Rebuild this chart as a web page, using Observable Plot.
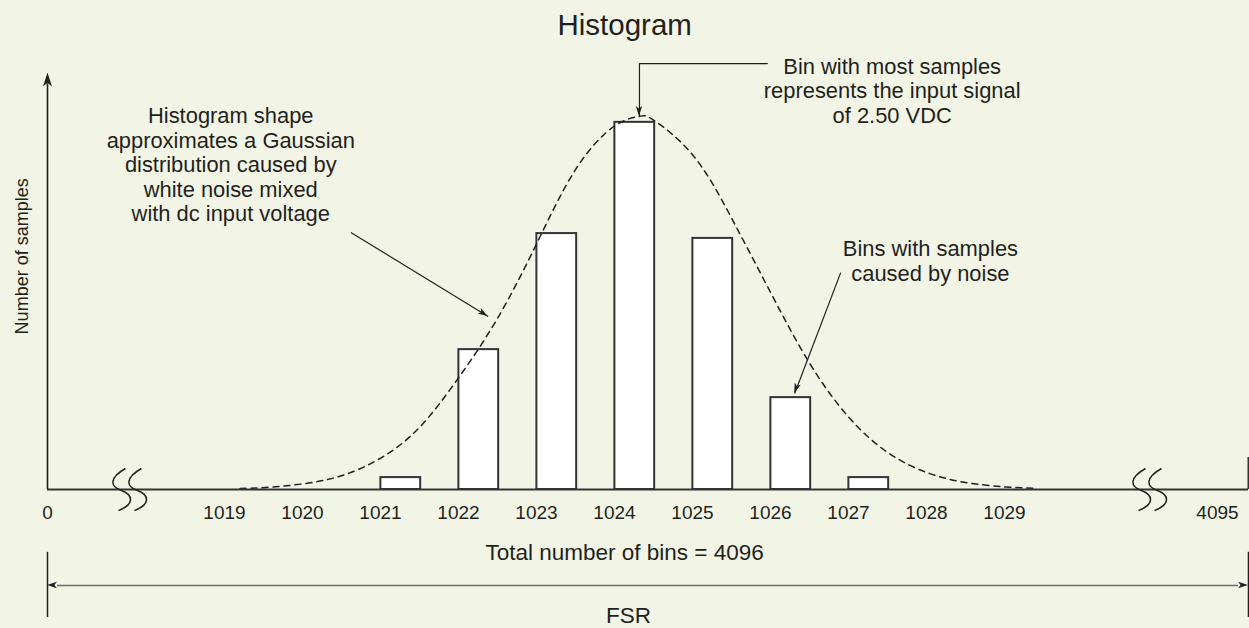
<!DOCTYPE html>
<html><head><meta charset="utf-8">
<script src="https://cdn.jsdelivr.net/npm/d3@7"></script>
<script src="https://cdn.jsdelivr.net/npm/@observablehq/plot@0.6"></script>
<style>
html,body{margin:0;padding:0;background:#f2f5e5;}
#chart{width:1249px;height:628px;overflow:hidden;}
</style></head><body><div id="chart"></div>
<script>
// ---- data ----
const bins = [1021, 1022, 1023, 1024, 1025, 1026, 1027];
const samples = [3.2, 37.6, 68.8, 98.7, 67.5, 24.7, 3.2];

// dashed Gaussian envelope
const gaussBin = [1019.2, 1019.5, 1020, 1020.5, 1021, 1021.5, 1022, 1022.5, 1023, 1023.5, 1024, 1024.32, 1024.5, 1025, 1025.5, 1026, 1026.5, 1027, 1027.5, 1028, 1028.5, 1029, 1029.4];
const gaussVal = [0.3, 0.5, 1.5, 3.7, 8.4, 16.7, 30, 46, 66, 86, 97.7, 100.3, 99.3, 90, 73, 53, 34, 19.5, 10, 4.6, 1.9, 0.7, 0.3];

const tickValues = [0, 1019, 1020, 1021, 1022, 1023, 1024, 1025, 1026, 1027, 1028, 1029, 4095];
const totalBins = 4096;
const breakAt = [843, 2551];

const titleText = "Histogram";
const yLabel = "Number of samples";
const totalText = "Total number of bins = 4096";
const fsrText = "FSR";

const noteText = [
  "Histogram shape\napproximates a Gaussian\ndistribution caused by\nwhite noise mixed\nwith dc input voltage",
  "Bin with most samples\nrepresents the input signal\nof 2.50 VDC",
  "Bins with samples\ncaused by noise"
];
const noteBin = [1019.08, 1027.56, 1028.05];
const noteVal = [87.4, 107.3, 61.45];

// straight callout arrows (from -> to)
const arrowFromBin = [1020.62, 1026.90];
const arrowFromVal = [69.1, 58.3];
const arrowToBin = [1022.38, 1026.31];
const arrowToVal = [46.5, 25.8];
// elbow callout to the peak
const elbowBin = [1025.96, 1024.32, 1024.32];
const elbowVal = [114.5, 114.5, 100.3];

// ---- scales ----
const xDomain = [0, 1018, 1030, 4095, totalBins];
const xRange = [47, 146, 1082, 1217, 1248];
const yDomain = [0, 100];
const yRange = [489, 117];
const xs = Plot.scale({x: {type: "linear", domain: xDomain, range: xRange}});
const ys = Plot.scale({y: {type: "linear", domain: yDomain, range: yRange}});
const angle = (u1, v1, u2, v2) => {
  const dx = xs.apply(u2) - xs.apply(u1), dy = ys.apply(v2) - ys.apply(v1);
  return Math.atan2(dx, -dy) * 180 / Math.PI;
};

const ink = "#231f20";
const font = "'Liberation Sans', Arial, sans-serif";
const barData = bins.map((b, i) => ({bin: b, samples: samples[i]}));
const gauss = gaussBin.map((b, i) => ({bin: b, v: gaussVal[i]}));
const notes = noteText.map((t, i) => ({t, bin: noteBin[i], v: noteVal[i]}));
const arrows = arrowFromBin.map((b, i) => ({x1: b, y1: arrowFromVal[i], x2: arrowToBin[i], y2: arrowToVal[i]}));
const elbow = elbowBin.map((b, i) => ({bin: b, v: elbowVal[i]}));

const yTop = 112.1, fsrTop = -16.9, fsrBot = -34.4, fsrMid = -25.8;

const smallHeads = [
  ...arrows.map(a => ({bin: a.x2, v: a.y2, a: angle(a.x1, a.y1, a.x2, a.y2), dx: 0})),
  {bin: elbowBin[2], v: elbowVal[2], a: 180, dx: 0},
  {bin: 0, v: fsrMid, a: -90, dx: 5},
  {bin: totalBins, v: fsrMid, a: 90, dx: -5}
];

// custom symbols
const headSym = {draw(ctx, size) {
  const r = Math.sqrt(size / Math.PI), L = 2 * r, W = 0.64 * r;
  ctx.moveTo(0, 0); ctx.lineTo(-W, L); ctx.lineTo(0, 0.74 * L); ctx.lineTo(W, L); ctx.closePath();
}};
const breakSym = {draw(ctx) {
  for (const c of [-8, 8]) {
    ctx.moveTo(c + 4, -21);
    ctx.bezierCurveTo(c - 12, -12, c - 12, -3, c, 1);
    ctx.bezierCurveTo(c + 12.5, 6, c + 12.5, 15, c - 3, 21);
  }
}};

const chart = Plot.plot({
  width: 1249, height: 628,
  marginLeft: 47, marginRight: 1, marginTop: 117, marginBottom: 139,
  x: {type: "linear", domain: xDomain, range: xRange, label: null},
  y: {type: "linear", domain: yDomain, range: yRange, axis: null, label: null},
  style: {fontFamily: font, background: "#f2f5e5", color: ink},
  marks: [
    // bars
    Plot.rect(barData, {x1: d => d.bin + 0.005, x2: d => d.bin + 0.515, y1: 0, y2: "samples", fill: "white", stroke: "#333", strokeWidth: 2}),
    // gaussian envelope
    Plot.line(gauss, {x: "bin", y: "v", curve: "natural", stroke: ink, strokeWidth: 1.5, strokeDasharray: "6,5"}),
    // baseline, y axis, end tick
    Plot.ruleY([0], {stroke: "#333", strokeWidth: 2}),
    Plot.ruleX([0], {y1: 0, y2: yTop - 3, stroke: ink, strokeWidth: 1.6}),
    Plot.dot([{bin: 0, v: yTop}], {x: "bin", y: "v", symbol: headSym, r: 7, fill: ink, stroke: "none"}),
    Plot.ruleX([totalBins], {y1: 0, y2: 8.6, stroke: "#333", strokeWidth: 2}),
    // axis breaks
    Plot.dot(breakAt, {x: d => d, y: 0, symbol: breakSym, r: 5, fill: "none", stroke: ink, strokeWidth: 1.5}),
    // tick labels
    Plot.axisX({ticks: tickValues, tickSize: 0, tickPadding: 15.5, fontSize: 19, tickFormat: d => String(d), color: ink, label: null}),
    // y label
    Plot.text([yLabel], {frameAnchor: "left", dx: -25, y: 41.7, rotate: -90, fontSize: 18, fill: ink}),
    // title
    Plot.text([titleText], {x: 1024.13, y: 124.7, fontSize: 29.5, fill: ink}),
    // notes
    Plot.text(notes, {x: "bin", y: "v", text: "t", fontSize: 21.9, lineHeight: 1.119, fill: ink}),
    Plot.link(arrows, {x1: "x1", y1: "y1", x2: "x2", y2: "y2", stroke: ink, strokeWidth: 1.2}),
    Plot.line(elbow, {x: "bin", y: "v", stroke: ink, strokeWidth: 1.2}),
    Plot.dot(smallHeads, {x: "bin", y: "v", rotate: "a", dx: "dx", symbol: headSym, r: 5, fill: ink, stroke: "none"}),
    // FSR
    Plot.ruleX([0, totalBins], {y1: fsrTop, y2: fsrBot, stroke: ink, strokeWidth: 1.5}),
    Plot.ruleY([fsrMid], {x1: 0, x2: totalBins, insetLeft: 10, insetRight: 10, stroke: "#6b6b6b", strokeWidth: 1.6}),
    Plot.text([totalText], {x: 1024.13, y: -16.9, fontSize: 22.5, fill: ink}),
    Plot.text([fsrText], {x: 1024.18, y: -33.9, fontSize: 22.5, fill: ink})
  ]
});
document.getElementById("chart").append(chart);
</script></body></html>
